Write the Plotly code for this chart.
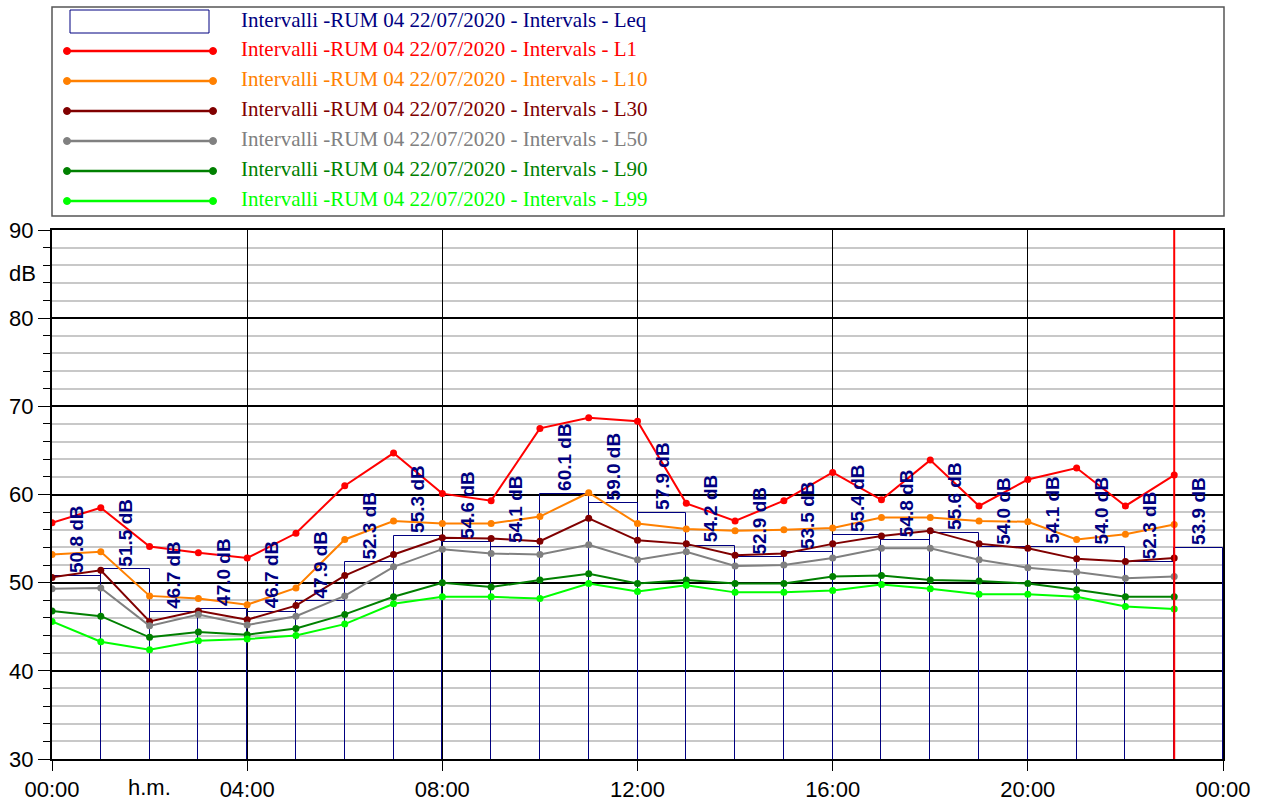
import plotly.graph_objects as go

hours = list(range(24))
leq = [50.8, 51.5, 46.7, 47.0, 46.7, 47.9, 52.3, 55.3, 54.6, 54.1, 60.1, 59.0,
       57.9, 54.2, 52.9, 53.5, 55.4, 54.8, 55.6, 54.0, 54.1, 54.0, 52.3, 53.9]
l1 = [56.8, 58.5, 54.1, 53.4, 52.8, 55.6, 61.0, 64.7, 60.1, 59.3, 67.5, 68.7,
      68.3, 59.0, 57.0, 59.3, 62.5, 59.4, 63.9, 58.7, 61.7, 63.0, 58.7, 62.2]
l10 = [53.2, 53.5, 48.5, 48.2, 47.5, 49.4, 54.9, 57.0, 56.7, 56.7, 57.5, 60.2,
       56.7, 56.1, 55.9, 56.0, 56.2, 57.4, 57.4, 57.0, 56.9, 54.9, 55.5, 56.6]
l30 = [50.6, 51.4, 45.6, 46.8, 45.8, 47.4, 50.8, 53.2, 55.1, 55.0, 54.7, 57.3,
       54.8, 54.4, 53.1, 53.3, 54.4, 55.3, 55.9, 54.4, 53.9, 52.7, 52.4, 52.8]
l50 = [49.3, 49.4, 45.1, 46.4, 45.2, 46.2, 48.5, 51.8, 53.8, 53.3, 53.2, 54.3,
       52.6, 53.5, 51.9, 52.0, 52.8, 53.9, 53.9, 52.6, 51.7, 51.2, 50.5, 50.7]
l90 = [46.8, 46.2, 43.8, 44.4, 44.1, 44.8, 46.4, 48.4, 50.0, 49.5, 50.3, 51.0,
       49.9, 50.3, 49.9, 49.9, 50.7, 50.8, 50.3, 50.2, 49.9, 49.2, 48.4, 48.4]
l99 = [45.6, 43.3, 42.4, 43.4, 43.6, 44.0, 45.3, 47.6, 48.4, 48.4, 48.2, 49.9,
       49.0, 49.7, 48.9, 48.9, 49.1, 49.8, 49.3, 48.7, 48.7, 48.4, 47.3, 47.0]

series_names = ["L1", "L10", "L30", "L50", "L90", "L99"]
series_vals = [l1, l10, l30, l50, l90, l99]
series_colors = ["#ff0000", "#ff8000", "#800000", "#808080", "#008000", "#00ff00"]
leq_color = "#000080"
prefix = "Intervalli -RUM 04 22/07/2020 - Intervals - "

x_tickvals = [0, 4, 8, 12, 16, 20, 24]
x_ticktext = ["00:00", "04:00", "08:00", "12:00", "16:00", "20:00", "00:00"]
cursor_hour = 23

W, H = 1263, 802
L, R, T, B = 52, 1223, 230, 759


def px(x):
    return (x - L) / (R - L)


def py(y):
    return (B - y) / (B - T)


fig = go.Figure()

fig.add_trace(go.Bar(
    x=[h + 0.5 for h in hours], y=leq, width=1.0,
    marker=dict(color="rgba(0,0,0,0)", line=dict(color=leq_color, width=1)),
    showlegend=False, hoverinfo="skip",
))

for name, vals, col in zip(series_names, series_vals, series_colors):
    fig.add_trace(go.Scatter(
        x=hours, y=vals, mode="lines+markers", name=name,
        line=dict(color=col, width=2), marker=dict(color=col, size=7),
        showlegend=False,
    ))

annotations = []
for h, v in zip(hours, leq):
    annotations.append(dict(
        x=h + 0.5, y=v, xref="x", yref="y", text=f"{v:.1f} dB",
        textangle=-90, showarrow=False, xanchor="center", yanchor="bottom",
        font=dict(family="Liberation Sans Narrow, Arial Narrow, Liberation Sans, Arial",
                  size=19, color=leq_color, weight="bold"),
        yshift=1,
    ))

shapes = []
shapes.append(dict(type="line", xref="x", yref="paper", x0=cursor_hour, x1=cursor_hour,
                   y0=0, y1=1, line=dict(color="#ff0000", width=2), layer="above"))

# legend box
shapes.append(dict(type="rect", xref="paper", yref="paper",
                   x0=px(52), x1=px(1224), y0=py(216), y1=py(7),
                   line=dict(color="#555555", width=1.5), fillcolor="rgba(0,0,0,0)"))
shapes.append(dict(type="rect", xref="paper", yref="paper",
                   x0=px(70), x1=px(209), y0=py(33), y1=py(10),
                   line=dict(color=leq_color, width=1), fillcolor="rgba(0,0,0,0)"))
row_y = [51, 81, 111, 141, 171, 201]
for yy, col in zip(row_y, series_colors):
    shapes.append(dict(type="line", xref="paper", yref="paper",
                       x0=px(67), x1=px(213), y0=py(yy), y1=py(yy),
                       line=dict(color=col, width=2.5)))
    for xx in (67, 213):
        shapes.append(dict(type="circle", xref="paper", yref="paper",
                           x0=px(xx - 3.5), x1=px(xx + 3.5), y0=py(yy + 3.5), y1=py(yy - 3.5),
                           line=dict(color=col, width=1), fillcolor=col))

leg_font = "Liberation Serif, Times New Roman, serif"
annotations.append(dict(x=px(239), y=py(20), xref="paper", yref="paper",
                        text=prefix + "Leq", showarrow=False, xanchor="left", yanchor="middle",
                        font=dict(family=leg_font, size=21, color=leq_color)))
for yy, col, name in zip(row_y, series_colors, series_names):
    annotations.append(dict(x=px(239), y=py(yy - 2), xref="paper", yref="paper",
                            text=prefix + name, showarrow=False, xanchor="left", yanchor="middle",
                            font=dict(family=leg_font, size=21, color=col)))

axis_font = dict(family="Liberation Sans, Arial, sans-serif", size=22, color="#000000")
annotations.append(dict(x=px(22), y=py(273), xref="paper", yref="paper", text="dB",
                        showarrow=False, xanchor="center", yanchor="middle", font=axis_font))
annotations.append(dict(x=2, y=py(787), xref="x", yref="paper", text="h.m.",
                        showarrow=False, xanchor="center", yanchor="middle", font=axis_font))

fig.update_layout(
    width=W, height=H,
    margin=dict(l=L, r=W - R, t=T, b=H - B, pad=0, autoexpand=False),
    paper_bgcolor="white", plot_bgcolor="white",
    bargap=0, showlegend=False,
    shapes=shapes, annotations=annotations,
    xaxis=dict(range=[0, 24], tickvals=x_tickvals, ticktext=x_ticktext,
               ticks="outside", ticklen=10, tickcolor="#000000", tickwidth=1,
               showgrid=True, gridcolor="#000000", gridwidth=1,
               showline=True, linecolor="#000000", linewidth=2, mirror=True,
               zeroline=False, tickfont=axis_font, fixedrange=True, automargin=False),
    yaxis=dict(range=[30, 90], tickvals=[30, 40, 50, 60, 70, 80, 90],
               ticks="outside", ticklen=12, tickcolor="#000000", tickwidth=1,
               showgrid=True, gridcolor="#000000", gridwidth=2,
               showline=True, linecolor="#000000", linewidth=2, mirror=True,
               zeroline=False, tickfont=axis_font, automargin=False,
               minor=dict(dtick=2, tick0=30, ticks="outside", ticklen=7, tickcolor="#000000",
                          showgrid=True, gridcolor="#c8c8c8", gridwidth=2),
               fixedrange=True),
)

fig.write_html("out.html", config={"displayModeBar": False},
               post_script="document.body.style.margin='0px';document.body.style.overflow='hidden';")
